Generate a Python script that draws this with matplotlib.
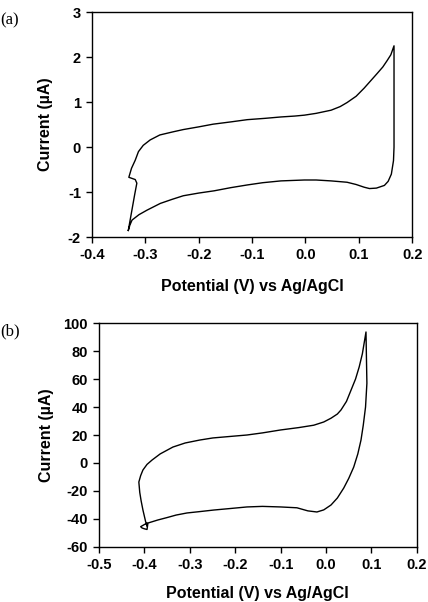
import matplotlib
matplotlib.use("Agg")
import matplotlib.pyplot as plt

# (a) cyclic voltammogram
potential_a = [-0.332, -0.326, -0.320, -0.316, -0.319, -0.331, -0.326, -0.319, -0.313,
               -0.304, -0.291, -0.273, -0.248, -0.229, -0.200, -0.173, -0.140,
               -0.109, -0.075, -0.046, -0.020, -0.002, 0.020, 0.048, 0.065, 0.078,
               0.095, 0.110, 0.122, 0.134, 0.145, 0.153, 0.160, 0.166,
               0.166, 0.166, 0.165, 0.161, 0.155, 0.148, 0.133, 0.120, 0.110,
               0.095, 0.078, 0.048, 0.020, -0.002, -0.046, -0.080, -0.109, -0.140,
               -0.171, -0.200, -0.229, -0.250, -0.272, -0.297, -0.312, -0.325,
               -0.329, -0.332]
current_a = [-1.85, -1.45, -1.05, -0.80, -0.72, -0.67, -0.47, -0.29, -0.10,
             0.04, 0.16, 0.27, 0.34, 0.39, 0.45, 0.51, 0.56,
             0.61, 0.64, 0.67, 0.69, 0.71, 0.75, 0.82, 0.90, 0.99,
             1.13, 1.31, 1.47, 1.63, 1.78, 1.92, 2.05, 2.25,
             1.00, 0.00, -0.30, -0.60, -0.76, -0.85, -0.91, -0.92, -0.89,
             -0.83, -0.78, -0.75, -0.73, -0.73, -0.75, -0.79, -0.84, -0.90,
             -0.97, -1.02, -1.08, -1.16, -1.25, -1.40, -1.50, -1.62,
             -1.73, -1.85]

# (b) cyclic voltammogram
potential_b = [-0.394, -0.397, -0.403, -0.407, -0.410, -0.412, -0.408, -0.403, -0.394,
               -0.383, -0.365, -0.337, -0.310, -0.278, -0.249, -0.210, -0.174, -0.140,
               -0.100, -0.060, -0.027, -0.005, 0.011, 0.025, 0.033, 0.045, 0.055,
               0.065, 0.073, 0.080, 0.088,
               0.089, 0.090, 0.087, 0.082, 0.077, 0.070, 0.061, 0.050, 0.039,
               0.025, 0.011, -0.005, -0.020, -0.040, -0.064, -0.100, -0.140, -0.174,
               -0.210, -0.247, -0.280, -0.306, -0.330, -0.350, -0.370, -0.392,
               -0.394, -0.400, -0.405, -0.408, -0.400, -0.394]
current_b = [-45.0, -42.0, -33.6, -27.0, -21.0, -13.6, -9.0, -5.0, -1.0,
             2.1, 6.5, 11.4, 14.3, 16.4, 17.9, 19.0, 20.0, 21.5,
             23.6, 25.3, 27.0, 29.3, 32.0, 35.0, 37.9, 44.0, 52.0,
             60.0, 68.6, 78.0, 93.6,
             75.0, 57.0, 40.0, 27.0, 16.4, 6.5, -2.9, -11.0, -17.9,
             -25.0, -30.0, -33.5, -35.0, -34.2, -32.0, -31.4, -31.0, -31.4,
             -32.5, -33.6, -34.8, -35.7, -37.2, -39.0, -40.7, -42.9,
             -47.5, -47.0, -46.4, -45.5, -44.0, -43.0]

panels = [
    dict(x=potential_a, y=current_a, xlim=(-0.4, 0.2), ylim=(-2, 3),
         xticks=[-0.4, -0.3, -0.2, -0.1, 0.0, 0.1, 0.2], yticks=[-2, -1, 0, 1, 2, 3],
         xfmt="{:.1f}", yfmt="{:d}", tag="(a)", xpad=12, ypad=11,
         rect=[0.215, 0.606, 0.748, 0.374]),
    dict(x=potential_b, y=current_b, xlim=(-0.5, 0.2), ylim=(-60, 100),
         xticks=[-0.5, -0.4, -0.3, -0.2, -0.1, 0.0, 0.1, 0.2],
         yticks=[-60, -40, -20, 0, 20, 40, 60, 80, 100],
         xfmt="{:.1f}", yfmt="{:d}", tag="(b)", xpad=10, ypad=7,
         rect=[0.231, 0.0914, 0.743, 0.372]),
]

fig = plt.figure(figsize=(4.28, 6.02), dpi=100)
font = "Liberation Sans"

for p in panels:
    ax = fig.add_axes(p["rect"])
    ax.plot(p["x"], p["y"], color="black", linewidth=1.0)
    ax.set_xlim(*p["xlim"])
    ax.set_ylim(*p["ylim"])
    ax.set_xticks(p["xticks"])
    ax.set_yticks(p["yticks"])
    ax.set_xticklabels([p["xfmt"].format(v) for v in p["xticks"]],
                       fontsize=10.5, fontweight="bold", family=font)
    ax.set_yticklabels([p["yfmt"].format(v) for v in p["yticks"]],
                       fontsize=10.5, fontweight="bold", family=font)
    ax.tick_params(direction="out", length=4, width=1, top=False, right=False, pad=4)
    for s in ax.spines.values():
        s.set_linewidth(1.0)
    ax.set_xlabel("Potential (V) vs Ag/AgCl", fontsize=11.5, fontweight="bold",
                  family=font, labelpad=p["xpad"])
    ax.set_ylabel("Current (µA)", fontsize=11.5, fontweight="bold",
                  family=font, labelpad=p["ypad"])
    fig.text(0.0, p["rect"][1] + p["rect"][3], p["tag"], fontsize=12,
             family="Liberation Serif", ha="left", va="top")

fig.savefig("out.png", dpi=100)
